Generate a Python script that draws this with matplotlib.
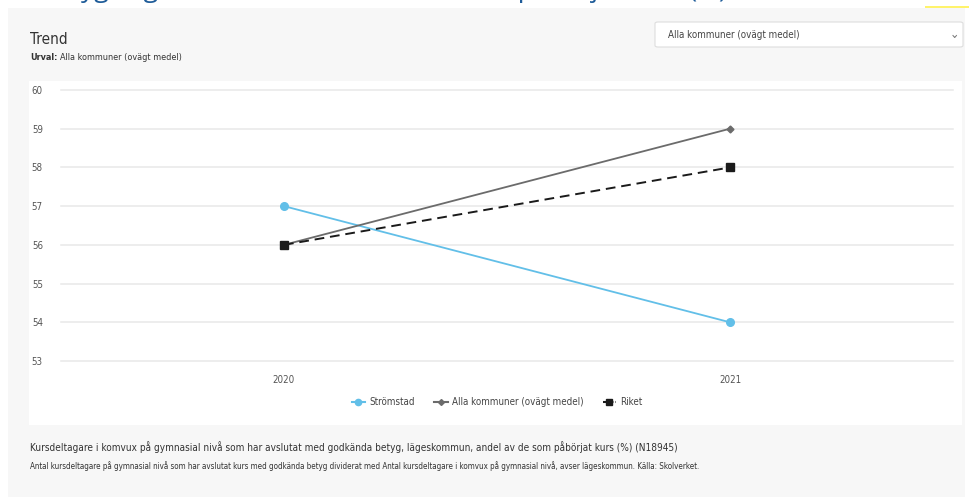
import matplotlib.pyplot as plt
from matplotlib.patches import Rectangle, FancyBboxPatch
from matplotlib.lines import Line2D

# Data
years = ['2020', '2021']
stromstad = [57, 54]
alla_kommuner = [56, 59]
riket = [56, 58]
y_ticks = [53, 54, 55, 56, 57, 58, 59, 60]

W, H = 970, 497
plt.rcParams['font.family'] = ['DejaVu Sans']
plt.rcParams['font.stretch'] = 'condensed'

def fx(px):
    return px / W

def fy(py):
    return 1 - py / H

fig = plt.figure(figsize=(W / 100, H / 100), dpi=100)
fig.patch.set_facecolor('white')

# grey panel and white card
fig.patches.append(Rectangle((fx(8), 0), fx(965) - fx(8), fy(8), transform=fig.transFigure,
                             facecolor='#f7f7f7', edgecolor='none', zorder=0))
fig.patches.append(Rectangle((fx(29), fy(425)), fx(962) - fx(29), fy(81) - fy(425),
                             transform=fig.transFigure, facecolor='white', edgecolor='none', zorder=0))
fig.patches.append(Rectangle((fx(925), fy(8)), fx(970) - fx(925), fy(6) - fy(8),
                             transform=fig.transFigure, facecolor='#fff36b', edgecolor='none', zorder=0))

# cut-off page title at top
fig.text(fx(727), fy(-3), 'Kursdeltagare i komvux på gymnasial nivå som har avslutat med godkända betyg, lägeskommun, andel av de som påbörjat kurs (%)',
         ha='right', va='baseline', fontsize=19, color='#1f5c99', family=['Open Sans', 'DejaVu Sans'], stretch='normal')

# dropdown
fig.patches.append(FancyBboxPatch((fx(655), fy(47)), fx(963) - fx(655), fy(22) - fy(47),
                                  boxstyle='round,pad=0,rounding_size=0.003', transform=fig.transFigure,
                                  facecolor='white', edgecolor='#dddddd', linewidth=0.8, zorder=1))
fig.text(fx(668), fy(35), 'Alla kommuner (ovägt medel)', ha='left', va='center', fontsize=7, color='#444444')
fig.text(fx(954), fy(34), '⌄', ha='center', va='center', fontsize=9, color='#777777')

fig.text(fx(30), fy(39), 'Trend', ha='left', va='center', fontsize=11, color='#333333')
t_urval = fig.text(fx(30), fy(58), 'Urval:', ha='left', va='center', fontsize=6.5, color='#333333', fontweight='bold')
fig.canvas.draw()
urval_end = t_urval.get_window_extent().x1
fig.text(fx(urval_end + 3), fy(58), 'Alla kommuner (ovägt medel)', ha='left', va='center', fontsize=6.5, color='#333333')

# chart
ax = fig.add_axes([fx(61), fy(361), fx(953) - fx(61), fy(90) - fy(361)], zorder=3)
ax.set_facecolor('none')
x = list(range(len(years)))
ax.plot(x, stromstad, color='#62bfe8', linewidth=1.3, marker='o', markersize=5.5, label='Strömstad', zorder=3)
ax.plot(x, alla_kommuner, color='#6b6b6b', linewidth=1.3, marker='D', markersize=3.5, label='Alla kommuner (ovägt medel)', zorder=3)
ax.plot(x, riket, color='#1a1a1a', linewidth=1.4, linestyle=(0, (5, 3)), marker='s', markersize=5.5, label='Riket', zorder=4)

ax.set_xlim(-0.5, 1.5)
ax.set_ylim(53, 60)
ax.set_yticks(y_ticks)
ax.set_xticks(x)
ax.set_xticklabels(years)
ax.grid(axis='y', color='#e8e8e8', linewidth=1.1)
for gl in ax.get_ygridlines():
    gl.set_clip_on(False)
ax.set_axisbelow(True)
for s in ax.spines.values():
    s.set_visible(False)
ax.tick_params(axis='both', length=0, labelsize=7, labelcolor='#555555')
ax.tick_params(axis='y', pad=13)
ax.tick_params(axis='x', pad=10)

handles = [
    Line2D([], [], color='#62bfe8', linewidth=1.5, marker='o', markersize=4.5),
    Line2D([], [], color='#6b6b6b', linewidth=1.5, marker='D', markersize=3),
    Line2D([], [], color='#1a1a1a', linewidth=1.5, linestyle=(0, (2, 1)), marker='s', markersize=4.5),
]
fig.legend(handles, ['Strömstad', 'Alla kommuner (ovägt medel)', 'Riket'], loc='center',
           bbox_to_anchor=(fx(497), fy(402)), ncol=3, frameon=False, fontsize=7,
           handlelength=1.4, handletextpad=0.4, columnspacing=2.0, labelcolor='#444444')

# footer
fig.text(fx(30), fy(447), 'Kursdeltagare i komvux på gymnasial nivå som har avslutat med godkända betyg, lägeskommun, andel av de som påbörjat kurs (%) (N18945)',
         ha='left', va='center', fontsize=7.2, color='#333333')
fig.text(fx(30), fy(466), 'Antal kursdeltagare på gymnasial nivå som har avslutat kurs med godkända betyg dividerat med Antal kursdeltagare i komvux på gymnasial nivå, avser lägeskommun. Källa: Skolverket.',
         ha='left', va='center', fontsize=5.8, color='#333333')

fig.savefig('out.png', dpi=100)
